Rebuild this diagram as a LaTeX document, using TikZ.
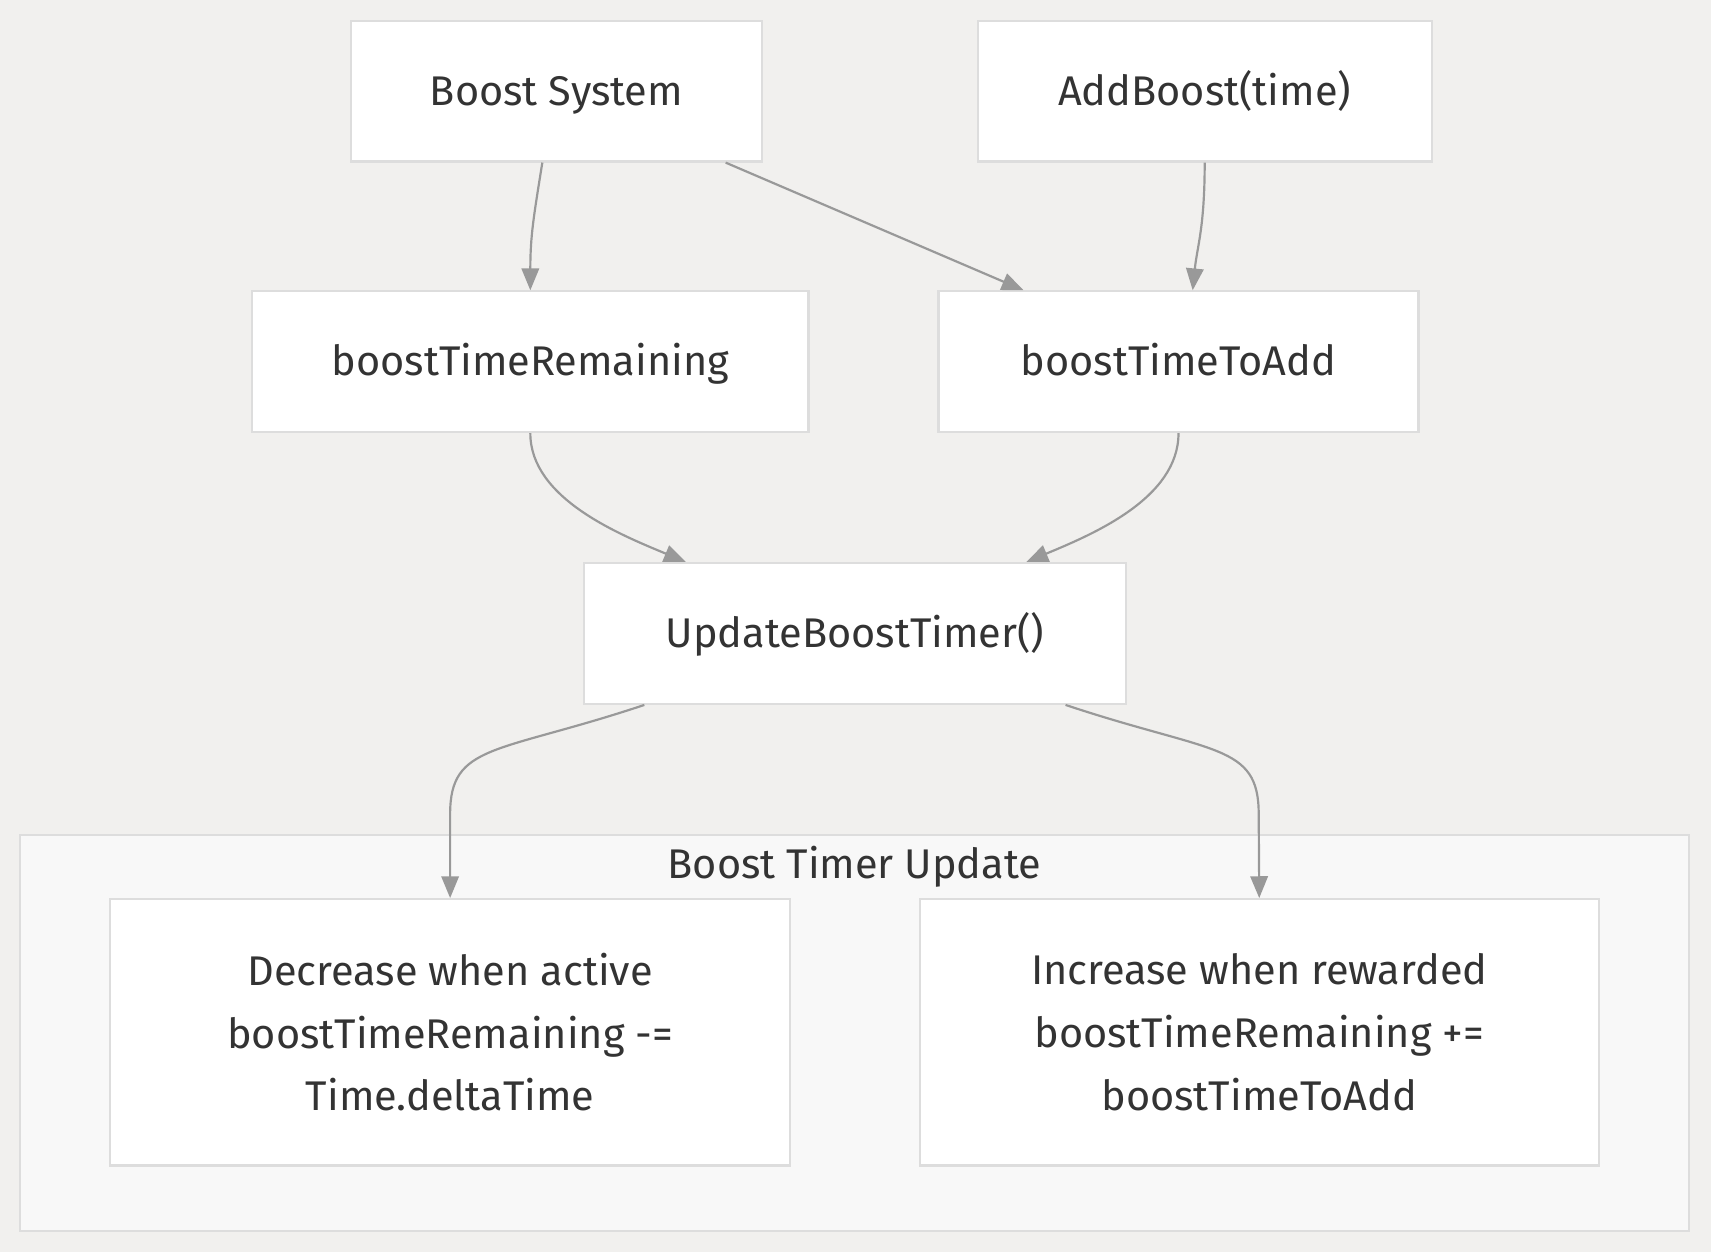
\documentclass[tikz,border=0pt]{standalone}
\usepackage{fontspec}
\setmainfont{Fira Sans}
\usetikzlibrary{arrows.meta}
\definecolor{bg}{HTML}{F1F0EE}
\definecolor{clfill}{HTML}{F8F8F8}
\definecolor{boxline}{HTML}{DDDDDD}
\definecolor{txt}{HTML}{333333}
\definecolor{arrline}{HTML}{999999}
\begin{document}
\begin{tikzpicture}[x=.5pt,y=-.5pt,
	box/.style={draw=boxline,line width=1pt,fill=white,text=txt,align=center,minimum width=#1,minimum height=64.5pt,inner sep=0pt,font=\fontsize{19}{28.75}\selectfont},
	single/.style={box=#1,text height=13pt,text depth=0pt},
	arr/.style={draw=arrline,line width=1pt,-{Triangle[length=10pt,width=8pt]}}]
	\fill[bg] (0,0) rectangle (1568,1147);
	\node[draw=boxline,line width=1pt,fill=clfill,minimum width=765pt,minimum height=181.5pt] (upd) at (783,946.5) {};
	\node[text=txt,font=\fontsize{19}{28.75}\selectfont,text height=13pt,text depth=0pt,inner sep=0pt] (updlabel) at (783,792) {Boost Timer Update};
	\node[single=188pt] (bs) at (510,83.5) {Boost System};
	\node[single=208pt] (add) at (1104,83.5) {AddBoost(time)};
	\node[single=255pt] (btr) at (486,331.5) {boostTimeRemaining};
	\node[single=220pt] (btta) at (1080,331.5) {boostTimeToAdd};
	\node[single=248.5pt] (ubt) at (783.5,580.5) {UpdateBoostTimer()};
	\node[box=311.5pt,minimum height=122pt] (dec) at (412.5,946) {Decrease when active\\boostTimeRemaining -=\\Time.deltaTime};
	\node[box=311pt,minimum height=122pt] (inc) at (1154,946) {Increase when rewarded\\boostTimeRemaining +=\\boostTimeToAdd};
	\draw[arr] ([shift={(-13,0)}]bs.south) .. controls +(-8,50) and +(0,-50) .. (btr.north);
	\draw[arr] ([shift={(155,0)}]bs.south) -- ([shift={(-142,0)}]btta.north);
	\draw[arr] (add.south) .. controls +(0,60) and +(4,-40) .. ([shift={(13,0)}]btta.north);
	\draw[arr] (btr.south) .. controls +(0,60) and +(-60,-25) .. ([shift={(-155,0)}]ubt.north);
	\draw[arr] (btta.south) .. controls +(0,60) and +(60,-25) .. ([shift={(157,0)}]ubt.north);
	\draw[arr] ([shift={(-193,0)}]ubt.south) .. controls +(-135,45) and +(0,-65) .. ++(-178,100) -- (dec.north);
	\draw[arr] ([shift={(193,0)}]ubt.south) .. controls +(135,45) and +(0,-65) .. ++(177,100) -- (inc.north);
\end{tikzpicture}
\end{document}
